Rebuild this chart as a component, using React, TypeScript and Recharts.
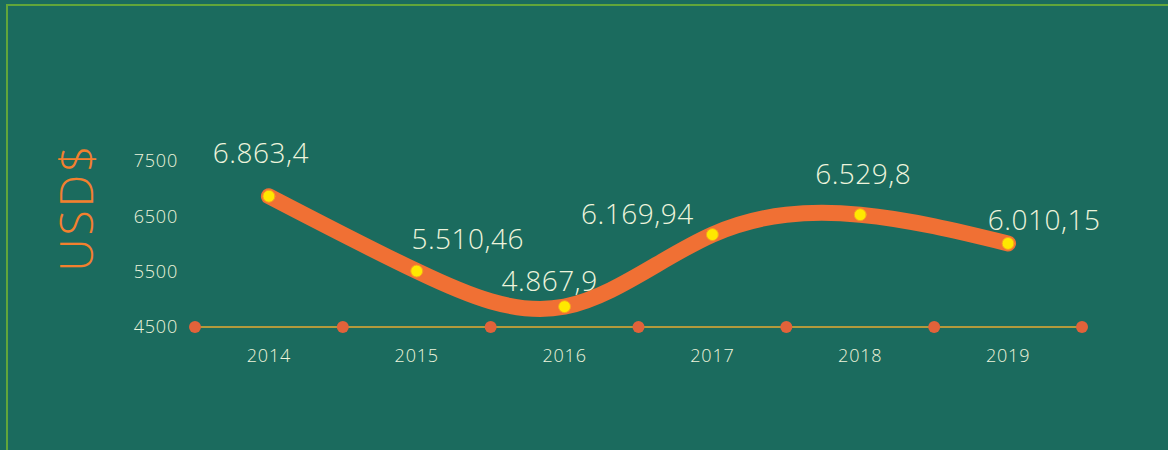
import React from "react";
import {
  LineChart,
  Line,
  XAxis,
  YAxis,
  ReferenceDot,
  LabelList,
} from "recharts";

const years = ["2014", "2015", "2016", "2017", "2018", "2019"];
const usdValues = [6863.4, 5510.46, 4867.9, 6169.94, 6529.8, 6010.15];
const valueLabels = ["6.863,4", "5.510,46", "4.867,9", "6.169,94", "6.529,8", "6.010,15"];
const yTicks = [4500, 5500, 6500, 7500];
const bandEdges = [0, 1, 2, 3, 4, 5, 6];

// label offsets relative to each point (dx, dy)
const labelShift = [
  [-8, -44],
  [51, -33],
  [-15, -27],
  [-75, -22],
  [3, -42],
  [36, -24],
];

const BG = "#1b6b5e";
const ORANGE = "#f07034";
const TEXT = "#eef4dc";
const FONT = "'Open Sans', sans-serif";

// each year sits in the middle of its slot
const data = years.map((y, i) => ({
  pos: i + 0.5,
  year: y,
  usd: usdValues[i],
  label: valueLabels[i],
}));
const xTicks = data.map((d) => d.pos);

const ValueLabel = (props: any) => {
  const { x, y, index, value } = props;
  const [dx, dy] = labelShift[index] || [0, -30];
  return (
    <text
      x={x + dx}
      y={y + dy}
      textAnchor="middle"
      dominantBaseline="central"
      fill={TEXT}
      fontSize={28}
      fontFamily={FONT}
      fontWeight={300}
      letterSpacing={0.5}
    >
      {value}
    </text>
  );
};

const UnitLabel = (props: any) => {
  const { viewBox } = props;
  const x = viewBox.x - 60;
  const y = viewBox.y + viewBox.height / 2 - 37;
  return (
    <text
      x={x}
      y={y}
      transform={`rotate(-90, ${x}, ${y})`}
      textAnchor="middle"
      dominantBaseline="central"
      fill="#f3802e"
      fontSize={46}
      fontFamily={FONT}
      fontWeight={300}
      letterSpacing={3}
    >
      USD$
    </text>
  );
};

const tickStyle = {
  fill: TEXT,
  fontSize: 18,
  fontFamily: FONT,
  fontWeight: 300,
  letterSpacing: 0.8,
};

export default function App() {
  return (
    <div
      style={{
        position: "fixed",
        left: 0,
        top: 0,
        width: 1168,
        height: 450,
        background: BG,
        overflow: "hidden",
      }}
    >
      <div style={{ position: "absolute", left: 0, top: 0 }}>
        <LineChart
          width={1168}
          height={450}
          data={data}
          margin={{ top: 161, right: 86, left: 135, bottom: 93 }}
        >
          <XAxis
            dataKey="pos"
            type="number"
            domain={[0, 6]}
            ticks={xTicks}
            tickFormatter={(v: number) => years[Math.floor(v)]}
            height={30}
            axisLine={{ stroke: "#b39a3c", strokeWidth: 2 }}
            tickLine={false}
            tickMargin={16}
            tick={tickStyle}
          />
          <YAxis
            width={60}
            domain={[4500, 7500]}
            ticks={yTicks}
            axisLine={false}
            tickLine={false}
            tickMargin={11}
            tick={tickStyle}
            label={<UnitLabel />}
          />
          {bandEdges.map((e) => (
            <ReferenceDot
              key={e}
              x={e}
              y={4500}
              r={6}
              fill="#e2623a"
              stroke="none"
            />
          ))}
          <Line
            type="natural"
            dataKey="usd"
            stroke={ORANGE}
            strokeWidth={16}
            strokeLinecap="round"
            dot={{ r: 6, fill: "#ffe800", stroke: "#f6a020", strokeWidth: 1 }}
            activeDot={false}
            isAnimationActive={false}
          >
            <LabelList dataKey="label" content={<ValueLabel />} />
          </Line>
        </LineChart>
      </div>
      <div
        style={{
          position: "absolute",
          left: 6,
          top: 4,
          width: 1300,
          height: 600,
          border: "2px solid #62a63a",
          pointerEvents: "none",
        }}
      />
    </div>
  );
}
